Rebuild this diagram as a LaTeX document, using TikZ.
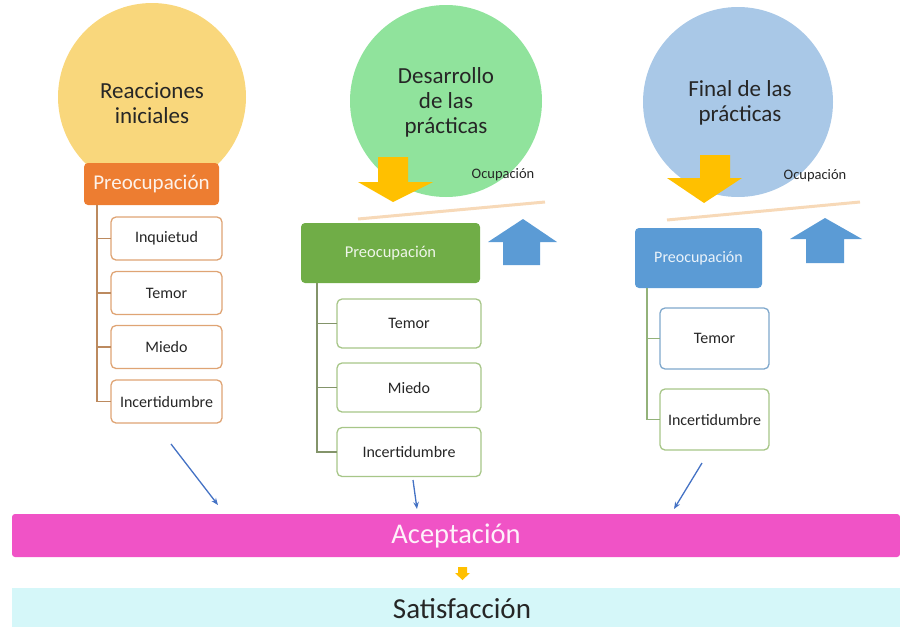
\documentclass[tikz,border=0pt]{standalone}
\usepackage{fontspec}
\setmainfont{Carlito}
\usetikzlibrary{arrows.meta}
\definecolor{txt}{HTML}{262626}
\definecolor{cyel}{HTML}{F9D77C}
\definecolor{cgreen}{HTML}{90E39C}
\definecolor{cblue}{HTML}{A9C8E7}
\definecolor{borange}{HTML}{ED7D31}
\definecolor{bgreen}{HTML}{70AD47}
\definecolor{bblue}{HTML}{5B9BD5}
\definecolor{korange}{HTML}{DFA474}
\definecolor{kgreen}{HTML}{A7C688}
\definecolor{kblue}{HTML}{7FA8CC}
\definecolor{torange}{HTML}{BC8A5F}
\definecolor{tgreen}{HTML}{83946A}
\definecolor{tgreen2}{HTML}{93B27A}
\definecolor{arryel}{HTML}{FFC000}
\definecolor{tan}{HTML}{F7D9B8}
\definecolor{acept}{HTML}{F053C6}
\definecolor{satis}{HTML}{D5F7F9}
\definecolor{thinblue}{HTML}{4472C4}
\begin{document}
\begin{tikzpicture}[x=1pt,y=-1pt,
  every node/.style={inner sep=0pt,outer sep=0pt},
  circ/.style={circle,minimum size=#1,draw=none},
  ctext/.style={align=center,font=\fontsize{23}{25}\selectfont,text=txt},
  headbox/.style={rounded corners=4pt,draw=none},
  kid/.style={draw=#1,rounded corners=5pt,fill=white,line width=1.3pt,
    font=\fontsize{16}{18}\selectfont,text=txt},
  trunk/.style={draw=#1,line width=1.3pt},
  thinarr/.style={draw=thinblue,line width=1.3pt,-{Stealth[length=7pt,width=5.5pt]}},
  ocup/.style={font=\fontsize{14.5}{16}\selectfont,text=txt},
  tanline/.style={draw=tan,line width=3pt},
]
\useasboundingbox (0,0) rectangle (900,627);

% ---------- circles ----------
\node[circ=188pt,fill=cyel] (c1) at (152,97) {};
\node[circ=192pt,fill=cgreen] (c2) at (446,101) {};
\node[circ=190pt,fill=cblue] (c3) at (738,102) {};
\node[ctext] (c1t) at (152,103) {Reacciones\\iniciales};
\node[ctext] (c2t) at (446,102.5) {Desarrollo\\de las\\prácticas};
\node[ctext] (c3t) at (740,102.5) {Final de las\\prácticas};

% ---------- yellow down arrows ----------
\fill[arryel] (378,157) -- (408,157) -- (408,182) -- (433,182) -- (393,202)
  -- (358,182) -- (378,182) -- cycle;
\fill[arryel] (700,155) -- (730,155) -- (730,178) -- (742,178) -- (704,203)
  -- (667,178) -- (700,178) -- cycle;

% ---------- blue up arrows ----------
\fill[bblue] (503,265) -- (540,265) -- (540,242) -- (557,242) -- (523,219)
  -- (488,242) -- (503,242) -- cycle;
\fill[bblue] (806,263) -- (844,263) -- (844,239) -- (862,239) -- (825,218)
  -- (790,239) -- (806,239) -- cycle;

% ---------- Ocupacion labels and tan lines ----------
\node[ocup] (o2) at (503,175) {Ocupación};
\node[ocup] (o3) at (815,176) {Ocupación};
\coordinate (l2a) at (358,219); \coordinate (l2b) at (545,202);
\coordinate (l3a) at (667,220); \coordinate (l3b) at (860,202);
\draw[tanline] (l2a) -- (l2b);
\draw[tanline] (l3a) -- (l3b);

% ---------- column 1 ----------
\node[headbox,fill=borange,minimum width=135pt,minimum height=42pt,
  text=white!90!borange,font=\fontsize{21}{23}\selectfont] (p1) at (151.5,184) {Preocupación};
\node[kid=korange,minimum width=111pt,minimum height=43pt] (k11) at (166.5,238.5) {Inquietud};
\node[kid=korange,minimum width=111pt,minimum height=43pt] (k12) at (166.5,293) {Temor};
\node[kid=korange,minimum width=111pt,minimum height=43pt] (k13) at (166.5,347) {Miedo};
\node[kid=korange,minimum width=111pt,minimum height=43pt] (k14) at (166.5,401.5) {Incertidumbre};
\coordinate (t1) at (97,205);
\foreach \k in {k11,k12,k13,k14} \draw[trunk=torange] (t1) |- (\k.west);

% ---------- column 2 ----------
\node[headbox,fill=bgreen,minimum width=179pt,minimum height=60pt,
  text=white!88!bgreen,font=\fontsize{16.5}{18}\selectfont] (p2) at (390.5,253) {Preocupación};
\node[kid=kgreen,minimum width=144pt,minimum height=49pt] (k21) at (409,323.5) {Temor};
\node[kid=kgreen,minimum width=144pt,minimum height=49pt] (k22) at (409,387.5) {Miedo};
\node[kid=kgreen,minimum width=144pt,minimum height=49pt] (k23) at (409,452) {Incertidumbre};
\coordinate (t2) at (317,283);
\foreach \k in {k21,k22,k23} \draw[trunk=tgreen] (t2) |- (\k.west);

% ---------- column 3 ----------
\node[headbox,fill=bblue,minimum width=127pt,minimum height=60pt,
  text=white!88!bblue,font=\fontsize{16}{18}\selectfont] (p3) at (698.5,258) {Preocupación};
\node[kid=kblue,minimum width=109pt,minimum height=61pt] (k31) at (714.5,338.5) {Temor};
\node[kid=kgreen,minimum width=109pt,minimum height=61pt] (k32) at (714.5,419.5) {Incertidumbre};
\coordinate (t3) at (647,288);
\foreach \k in {k31,k32} \draw[trunk=tgreen2] (t3) |- (\k.west);

% ---------- bottom bars ----------
\node[fill=acept,rounded corners=3pt,minimum width=888pt,minimum height=43pt,
  text=white!92!acept,font=\fontsize{28.5}{30}\selectfont] (acc) at (456,535.5) {Aceptación};
\node[fill=satis,minimum width=888pt,minimum height=39pt,
  text=txt,font=\fontsize{29}{31}\selectfont] (sat) at (456,607.5) {};
\node[text=txt,font=\fontsize{29}{31}\selectfont] (satt) at (462,609) {Satisfacción};
\fill[arryel] (458,567) -- (467,567) -- (467,573) -- (470,573) -- (462.5,580)
  -- (455,573) -- (458,573) -- cycle;

% ---------- thin arrows ----------
\coordinate (a1s) at (171,444); \coordinate (a1e) at (218,505);
\coordinate (a2s) at (413,480); \coordinate (a2e) at (417,509);
\coordinate (a3s) at (702,463); \coordinate (a3e) at (674,509);
\draw[thinarr] (a1s) -- (a1e);
\draw[thinarr] (a2s) -- (a2e);
\draw[thinarr] (a3s) -- (a3e);
\end{tikzpicture}
\end{document}
